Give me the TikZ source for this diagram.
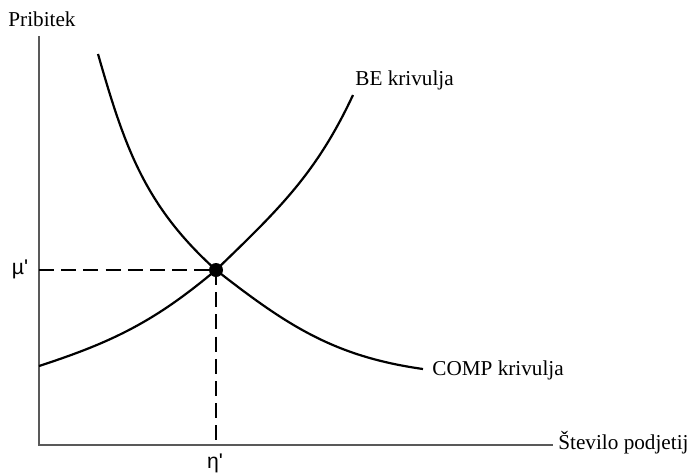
\documentclass[tikz,border=0pt]{standalone}
\usepackage{fontspec}
\setmainfont{Liberation Serif}
\newfontfamily\greekfont{Liberation Sans}
\usetikzlibrary{arrows.meta}

\begin{document}
\begin{tikzpicture}[x={(0.5pt,0)}, y={(0,-0.5pt)},
  axisline/.style={gray!70!black, line width=0.75pt},
  curveline/.style={black, line width=1.1pt},
  guideline/.style={black, line width=1.2pt, dash pattern=on 7.5pt off 3.6pt},
  lbl/.style={font=\fontsize{10.6}{13}\selectfont, inner sep=0pt}]
\useasboundingbox (0,0) rectangle (691,473);

% Axes
\coordinate (orig) at (39,445);
\coordinate (ytop) at (39,36);
\coordinate (xend) at (553,445);
\draw[axisline] (ytop) -- (orig) -- (xend);
\node[lbl] (ylab) at (42,19) {Pribitek};
\node[lbl, anchor=west] (xlab) at (558,443) {Število podjetij};

% Equilibrium point
\node[circle, fill=black, inner sep=0pt, minimum size=7pt] (eq) at (216,270) {};
\coordinate (mu) at (39,270);
\coordinate (eta) at (216,445);
\draw[guideline] (mu) -- (eq.center);
\draw[guideline] (eq.center) -- (eta);
\node[lbl, font=\fontsize{10.6}{13}\selectfont\greekfont] (mulab) at (20,269) {µ'};
\node[lbl, font=\fontsize{10.6}{13}\selectfont\greekfont] (etalab) at (215,463) {η'};

% BE curve
\coordinate (bestart) at (39,366);
\coordinate (beend) at (353,95);
\draw[curveline] (bestart) to[out=18, in=220] (eq.center) to[out=44, in=245] (beend);
\node[lbl, anchor=west] (belab) at (355,80) {BE krivulja};

% COMP curve
\coordinate (compstart) at (98,54);
\coordinate (compend) at (423,369);
\draw[curveline] (compstart) to[out=-74, in=138] (eq.center) to[out=-38, in=172] (compend);
\node[lbl, anchor=west] (complab) at (432,370) {COMP krivulja};

\end{tikzpicture}
\end{document}
